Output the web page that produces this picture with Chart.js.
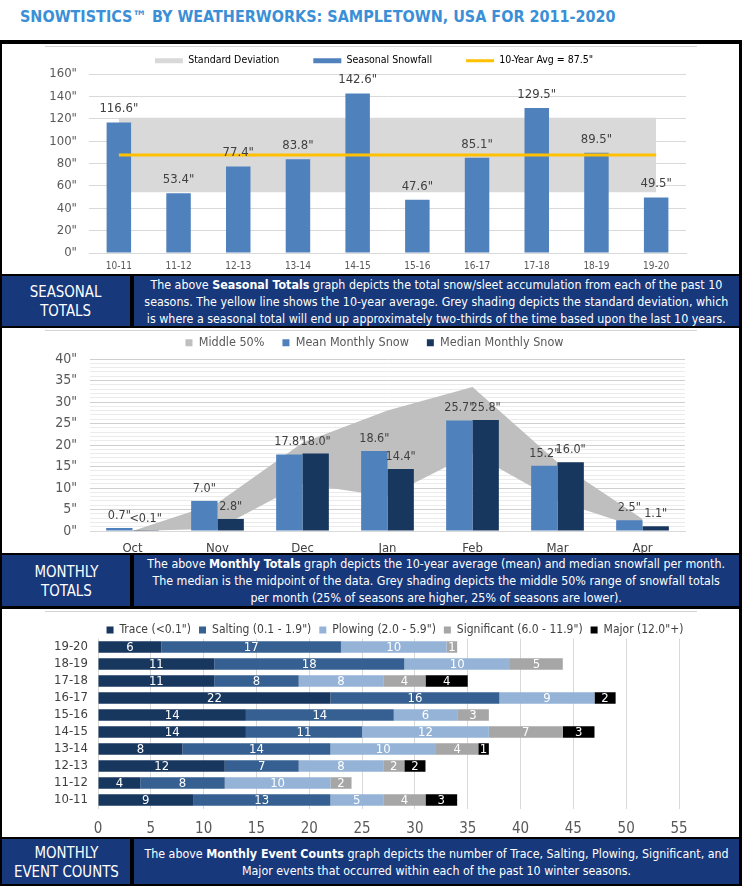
<!DOCTYPE html>
<html>
<head>
<meta charset="utf-8">
<title>Snowtistics</title>
<script src="https://cdn.jsdelivr.net/npm/chart.js"></script>
<style>
  body { margin: 0; background: #fff; font-family: "Liberation Sans Narrow", "DejaVu Sans Condensed", sans-serif; }
  .page { position: relative; width: 742px; height: 886px; overflow: hidden; }
  .title { position: absolute; left: 20px; top: 7px; font-size: 16px; font-weight: bold; color: #3a8fd6; white-space: nowrap; }
  .frame { position: absolute; left: 0; top: 40px; width: 742px; height: 846px; background: #000; }
  .panel { position: absolute; left: 2px; width: 737px; background: #fff; }
  .panel .rule { position: absolute; left: 43px; top: 2px; width: 652px; height: 1px; background: #d4d4d4; }
  .panel canvas { position: absolute; left: 0; top: 0; }
  .cap-head, .cap-text { position: absolute; background: #17387b; color: #fff; display: flex; align-items: center; justify-content: center; text-align: center; white-space: nowrap; }
  .cap-head { left: 2px; width: 128px; font-size: 16px; line-height: 19px; }
  .cap-head > div { transform: scaleX(0.93); }
  .cap-text { left: 134px; width: 605px; font-size: 13px; line-height: 17px; }
  .cap-text > div { transform: scaleX(0.95); }
</style>
</head>
<body>
<div class="page">
  <div class="title">SNOWTISTICS™ BY WEATHERWORKS: SAMPLETOWN, USA FOR 2011-2020</div>
  <div class="frame">
    <div class="panel" style="top:4px;height:230px"><div class="rule"></div><canvas id="seasonChart" width="737" height="230"></canvas></div>
    <div class="cap-head" style="top:236px;height:50px"><div>SEASONAL<br>TOTALS</div></div>
    <div class="cap-text" style="top:236px;height:50px"><div>The above <b>Seasonal Totals</b> graph depicts the total snow/sleet accumulation from each of the past 10<br>seasons. The yellow line shows the 10-year average. Grey shading depicts the standard deviation, which<br>is where a seasonal total will end up approximately two-thirds of the time based upon the last 10 years.</div></div>

    <div class="panel" style="top:288px;height:225px"><div class="rule"></div><canvas id="monthChart" width="737" height="225"></canvas></div>
    <div class="cap-head" style="top:515px;height:51px"><div>MONTHLY<br>TOTALS</div></div>
    <div class="cap-text" style="top:515px;height:51px"><div>The above <b>Monthly Totals</b> graph depicts the 10-year average (mean) and median snowfall per month.<br>The median is the midpoint of the data. Grey shading depicts the middle 50% range of snowfall totals<br>per month (25% of seasons are higher, 25% of seasons are lower).</div></div>

    <div class="panel" style="top:569px;height:228px"><div class="rule"></div><canvas id="eventChart" width="737" height="228"></canvas></div>
    <div class="cap-head" style="top:799px;height:45px"><div>MONTHLY<br>EVENT COUNTS</div></div>
    <div class="cap-text" style="top:799px;height:45px"><div>The above <b>Monthly Event Counts</b> graph depicts the number of Trace, Salting, Plowing, Significant, and<br>Major events that occurred within each of the past 10 winter seasons.</div></div>
  </div>
</div>

<script>
// ---- seasonal totals
const seasons = ['10-11', '11-12', '12-13', '13-14', '14-15', '15-16', '16-17', '17-18', '18-19', '19-20'];
const seasonalSnow = [116.6, 53.4, 77.4, 83.8, 142.6, 47.6, 85.1, 129.5, 89.5, 49.5];
const tenYearAvg = [87.5, 87.5, 87.5, 87.5, 87.5, 87.5, 87.5, 87.5, 87.5, 87.5];
const stdDevHigh = [120.8, 120.8, 120.8, 120.8, 120.8, 120.8, 120.8, 120.8, 120.8, 120.8];
const stdDevLow = [54.2, 54.2, 54.2, 54.2, 54.2, 54.2, 54.2, 54.2, 54.2, 54.2];

// ---- monthly totals
const months = ['Oct', 'Nov', 'Dec', 'Jan', 'Feb', 'Mar', 'Apr'];
const meanSnow = [0.7, 7.0, 17.8, 18.6, 25.7, 15.2, 2.5];
const medianSnow = [0.05, 2.8, 18.0, 14.4, 25.8, 16.0, 1.1];
const middleHigh = [0, 6.5, 20.5, 28, 33.5, 16, 2.8];
const middleLow = [0, 0.5, 11, 8, 18, 7, 0.5];

// ---- event counts (same season order as above)
const traceEvents = [9, 4, 12, 8, 14, 14, 22, 11, 11, 6];
const saltingEvents = [13, 8, 7, 14, 11, 14, 16, 8, 18, 17];
const plowingEvents = [5, 10, 8, 10, 12, 6, 9, 8, 10, 10];
const significantEvents = [4, 2, 2, 4, 7, 3, 0, 4, 5, 1];
const majorEvents = [3, 0, 2, 1, 3, 0, 2, 4, 0, 0];

const FONT = "'Liberation Sans Narrow', 'DejaVu Sans Condensed', sans-serif";
Chart.defaults.font.family = FONT;
Chart.defaults.color = '#595959';

// draws the numbers on the bars
function valueLabels(cfg) {
  return {
    id: 'valueLabels',
    afterDatasetsDraw(chart) {
      const ctx = chart.ctx;
      ctx.save();
      ctx.font = cfg.size + 'px ' + FONT;
      ctx.fillStyle = cfg.color;
      ctx.textAlign = 'center';
      chart.data.datasets.forEach((ds, i) => {
        if (!ds.showValues) return;
        chart.getDatasetMeta(i).data.forEach((bar, j) => {
          const v = ds.data[j];
          if (!v) return;
          const text = cfg.format(v);
          if (cfg.inside) {
            const p = bar.getCenterPoint();
            ctx.textBaseline = 'middle';
            ctx.fillText(text, p.x, p.y + 1);
          } else {
            ctx.textBaseline = 'bottom';
            ctx.fillText(text, bar.x, bar.y - cfg.offset);
          }
        });
      });
      ctx.restore();
    }
  };
}

// lets the legend sit where it should without changing the item spacing
const legendPlace = {
  id: 'legendPlace',
  beforeLayout(chart, args, opts) {
    const lg = chart.legend;
    if (!lg || lg._patched) return;
    const fit = lg.fit;
    lg.fit = function () { fit.call(this); this.height = opts.height; };
    lg._patched = true;
  },
  afterLayout(chart, args, opts) {
    const lg = chart.legend;
    const half = (lg.right - lg.left) / 2;
    lg.left = opts.center - half;
    lg.right = opts.center + half;
    lg.top += opts.dy || 0;
  }
};

const byIndex = (a, b) => a.datasetIndex - b.datasetIndex;

new Chart(document.getElementById('seasonChart'), {
  data: {
    labels: seasons,
    datasets: [
      { type: 'line', label: 'Standard Deviation', data: stdDevHigh, fill: '+1', backgroundColor: '#d9d9d9',
        borderColor: 'transparent', pointRadius: 0, order: 3 },
      { type: 'line', label: '', data: stdDevLow, fill: false, borderColor: 'transparent', pointRadius: 0, order: 3 },
      { type: 'bar', label: 'Seasonal Snowfall', data: seasonalSnow, backgroundColor: '#4f81bd',
        barPercentage: 0.41, categoryPercentage: 1, order: 2, showValues: true },
      { type: 'line', label: '10-Year Avg = 87.5"', data: tenYearAvg, borderColor: '#ffc000', borderWidth: 3,
        pointRadius: 0, fill: false, order: 1 }
    ]
  },
  options: {
    responsive: false,
    animation: false,
    layout: { padding: { left: 0, right: 53, top: 0, bottom: 0 } },
    plugins: {
      tooltip: { enabled: false },
      legendPlace: { height: 30, dy: -22.5, center: 372 },
      legend: {
        labels: {
          usePointStyle: true, pointStyleWidth: 28, boxHeight: 5, padding: 34,
          font: { size: 10.5 }, color: '#595959',
          generateLabels(chart) {
            return chart.data.datasets.map((ds, i) => {
              const isLine = ds.type === 'line' && !ds.fill;
              return {
                text: ds.label,
                datasetIndex: i,
                fillStyle: isLine ? ds.borderColor : ds.backgroundColor,
                strokeStyle: isLine ? ds.borderColor : ds.backgroundColor,
                lineWidth: isLine ? 3 : 0,
                pointStyle: isLine ? 'line' : 'rect',
                hidden: false
              };
            }).filter(item => item.text);
          }
        }
      }
    },
    scales: {
      x: {
        grid: { display: false, drawTicks: false },
        border: { color: '#d9d9d9' },
        ticks: { font: { size: 10 }, padding: 7 },
        afterFit(s) { s.height = 21; }
      },
      y: {
        min: 0, max: 160,
        ticks: { stepSize: 20, padding: 12, font: { size: 13 }, callback: v => v + '"' },
        grid: { color: '#d9d9d9', drawTicks: false },
        border: { display: false },
        afterFit(s) { s.width = 87; }
      }
    }
  },
  plugins: [legendPlace, valueLabels({ size: 13, color: '#404040', offset: 7, format: v => v.toFixed(1) + '"' })]
});

new Chart(document.getElementById('monthChart'), {
  data: {
    labels: months,
    datasets: [
      { type: 'line', label: 'Middle 50%', data: middleHigh, fill: '+1', backgroundColor: '#bfbfbf',
        borderColor: 'transparent', pointRadius: 0, order: 3 },
      { type: 'line', label: '', data: middleLow, fill: false, borderColor: 'transparent', pointRadius: 0, order: 3 },
      { type: 'bar', label: 'Mean Monthly Snow', data: meanSnow, backgroundColor: '#4f81bd',
        barPercentage: 1, categoryPercentage: 0.62, order: 1, showValues: true },
      { type: 'bar', label: 'Median Monthly Snow', data: medianSnow, backgroundColor: '#17375e',
        barPercentage: 1, categoryPercentage: 0.62, order: 1, showValues: true }
    ]
  },
  options: {
    responsive: false,
    animation: false,
    layout: { padding: { left: 0, right: 54, top: 0, bottom: 0 } },
    plugins: {
      tooltip: { enabled: false },
      legendPlace: { height: 31, dy: -9.5, center: 372.5 },
      legend: {
        labels: {
          boxWidth: 7, boxHeight: 7, padding: 18, font: { size: 12.5 }, color: '#595959',
          filter: item => !!item.text, sort: byIndex
        }
      }
    },
    scales: {
      x: {
        grid: { display: false, drawTicks: false },
        border: { color: '#d9d9d9' },
        ticks: { font: { size: 13 }, color: '#404040', padding: 10 },
        afterFit(s) { s.height = 22; }
      },
      y: {
        min: 0, max: 40,
        ticks: { stepSize: 1, autoSkip: false, padding: 13, font: { size: 14 },
          callback: v => (v % 5 === 0 ? v + '"' : '') },
        grid: { color: c => (c.tick.value % 5 === 0 ? '#cfcfcf' : '#ebebeb'), drawTicks: false },
        border: { display: false },
        afterFit(s) { s.width = 88; }
      }
    }
  },
  plugins: [legendPlace, valueLabels({ size: 12.5, color: '#404040', offset: 6,
    format: v => (v < 0.1 ? '<0.1"' : v.toFixed(1) + '"') })]
});

const eventStyle = { barPercentage: 0.68, categoryPercentage: 1, showValues: true };
new Chart(document.getElementById('eventChart'), {
  type: 'bar',
  data: {
    labels: seasons,
    datasets: [
      { label: 'Trace (<0.1")', data: traceEvents, backgroundColor: '#17375e', ...eventStyle },
      { label: 'Salting (0.1 - 1.9")', data: saltingEvents, backgroundColor: '#366092', ...eventStyle },
      { label: 'Plowing (2.0 - 5.9")', data: plowingEvents, backgroundColor: '#95b3d7', ...eventStyle },
      { label: 'Significant (6.0 - 11.9")', data: significantEvents, backgroundColor: '#a6a6a6', ...eventStyle },
      { label: 'Major (12.0"+)', data: majorEvents, backgroundColor: '#000000', ...eventStyle }
    ]
  },
  options: {
    indexAxis: 'y',
    responsive: false,
    animation: false,
    layout: { padding: { left: 0, right: 60, top: 0, bottom: 0 } },
    plugins: {
      tooltip: { enabled: false },
      legendPlace: { height: 29.5, dy: 7, center: 393 },
      legend: {
        labels: { boxWidth: 7, boxHeight: 7, padding: 8, font: { size: 12 }, color: '#404040', sort: byIndex }
      }
    },
    scales: {
      x: {
        stacked: true, min: 0, max: 55,
        ticks: { stepSize: 5, padding: 12, font: { size: 15 } },
        grid: { color: '#d9d9d9', drawTicks: false },
        border: { display: false },
        afterFit(s) { s.height = 28.5; }
      },
      y: {
        stacked: true, reverse: true,
        grid: { display: false, drawTicks: false },
        border: { display: false },
        ticks: { padding: 10, autoSkip: false, font: { size: 13 }, color: '#404040' },
        afterFit(s) { s.width = 96; }
      }
    }
  },
  plugins: [legendPlace, valueLabels({ size: 13, color: '#ffffff', inside: true, format: v => String(v) })]
});
</script>
</body>
</html>
